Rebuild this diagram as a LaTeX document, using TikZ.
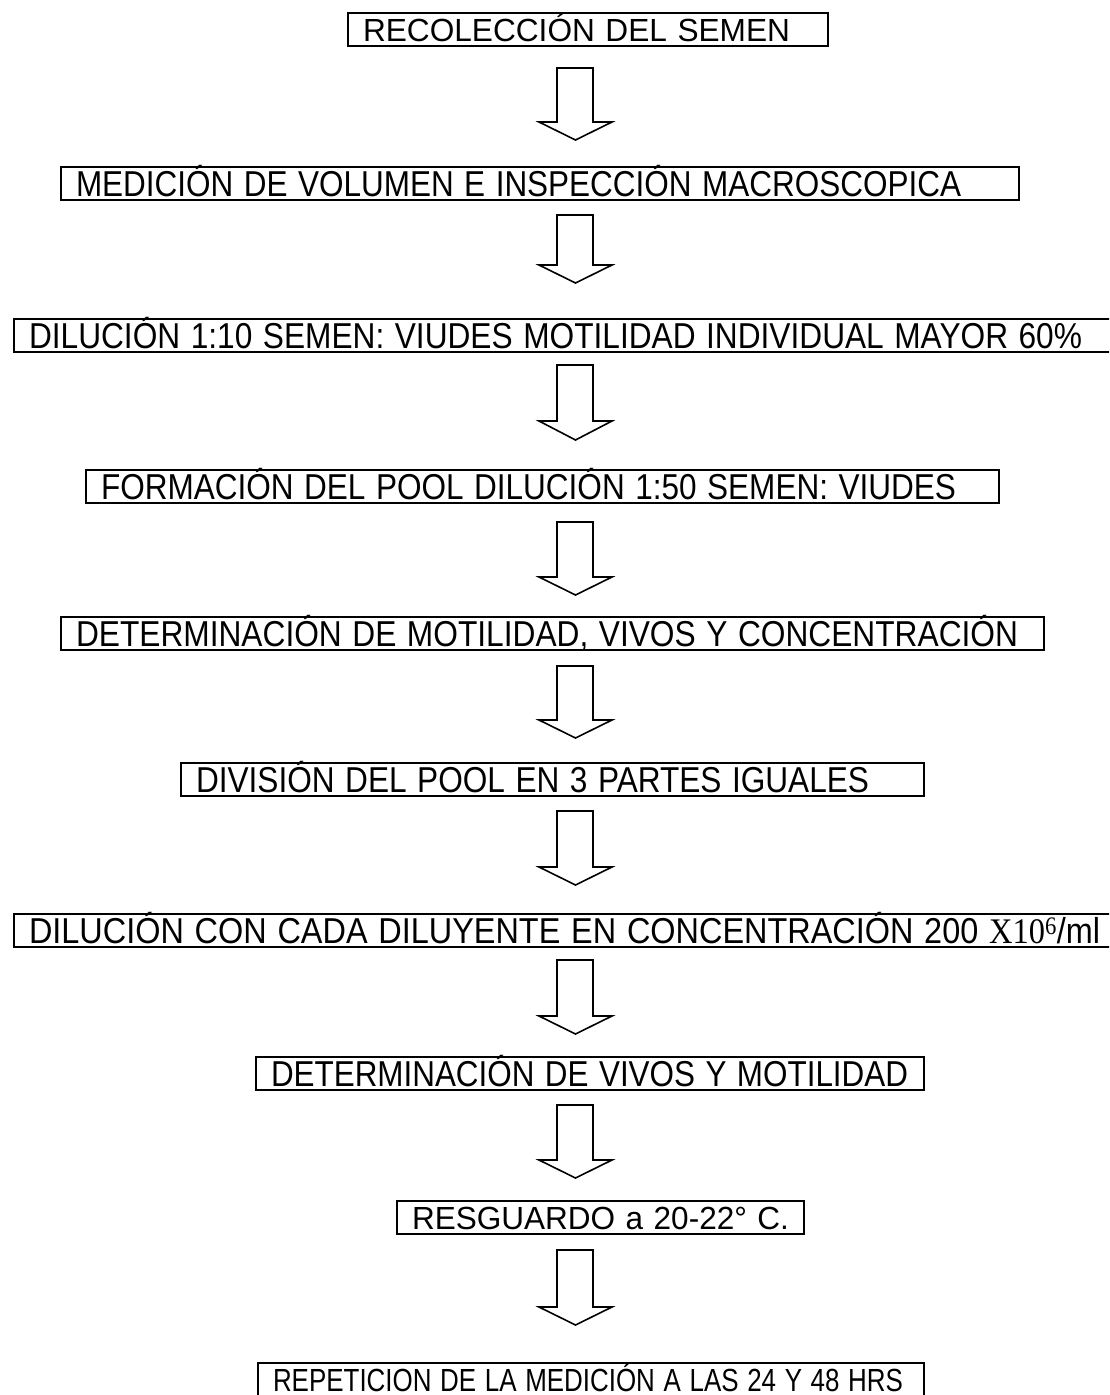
\documentclass[tikz,border=0pt]{standalone}
\usepackage{fontspec}
\setmainfont{Liberation Sans}
\newfontfamily\tnr{Liberation Serif}
\usepackage{graphicx}
\newcommand{\fitw}[2]{\resizebox{#1}{\height}{#2}}
\newcommand{\barrow}[3]{%
  \draw[arrowline] (557,#1) -- (593,#1) -- (593,#2) -- (612,#2) -- (575.5,#3) -- (539,#2) -- (557,#2) -- cycle;}
\tikzset{
  stepbox/.style={draw, line width=2pt, inner xsep=15pt, inner ysep=0pt,
    minimum height=33pt, align=left, anchor=north west,
    text height=23pt, text depth=0pt,
    font=\fontsize{32pt}{38pt}\selectfont},
  condbox/.style={stepbox, text height=25.5pt, font=\fontsize{36pt}{42pt}\selectfont},
  arrowline/.style={draw, line width=1.6pt, fill=white, line join=miter}
}
\begin{document}
\begin{tikzpicture}[x=1pt,y=-1pt]
\useasboundingbox (0,0) rectangle (1109,1395);
\clip (0,0) rectangle (1109,1395);
\fill[white] (0,0) rectangle (1109,1395);
\node[stepbox, text width=450pt] (b1) at (347,12) {\fitw{427pt}{RECOLECCIÓN DEL SEMEN}};
\node[condbox, text width=928pt] (b2) at (60,166) {\fitw{885pt}{MEDICIÓN DE VOLUMEN E INSPECCIÓN MACROSCOPICA}};
\node[condbox, text width=1082pt] (b3) at (13,318) {\fitw{1053pt}{DILUCIÓN 1:10 SEMEN: VIUDES MOTILIDAD INDIVIDUAL MAYOR 60\%}};
\node[condbox, text width=883pt] (b4) at (85,469) {\fitw{855pt}{FORMACIÓN DEL POOL DILUCIÓN 1:50 SEMEN: VIUDES}};
\node[condbox, text width=953pt] (b5) at (60,616) {\fitw{942pt}{DETERMINACIÓN DE MOTILIDAD, VIVOS Y CONCENTRACIÓN}};
\node[condbox, text width=713pt] (b6) at (180,762) {\fitw{673pt}{DIVISIÓN DEL POOL EN 3 PARTES IGUALES}};
\node[condbox, text width=1082pt] (b7) at (13,913) {\fitw{1071pt}{DILUCIÓN CON CADA DILUYENTE EN CONCENTRACIÓN 200 {\tnr X10\textsuperscript{6}}/ml}};
\node[condbox, text width=638pt] (b8) at (255,1056) {\fitw{637pt}{DETERMINACIÓN DE VIVOS Y MOTILIDAD}};
\node[stepbox, text width=377pt] (b9) at (396,1200) {\fitw{377pt}{RESGUARDO a 20-22° C.}};
\node[stepbox, text width=636pt] (b10) at (257,1362) {\fitw{630pt}{REPETICION DE LA MEDICIÓN A LAS 24 Y 48 HRS}};
\barrow{68}{122}{140}
\barrow{215}{265}{283}
\barrow{365}{421}{440}
\barrow{522}{577}{595}
\barrow{666}{720}{738}
\barrow{811}{867}{885}
\barrow{960}{1016}{1034}
\barrow{1105}{1160}{1178}
\barrow{1250}{1307}{1325}
\end{tikzpicture}
\end{document}
